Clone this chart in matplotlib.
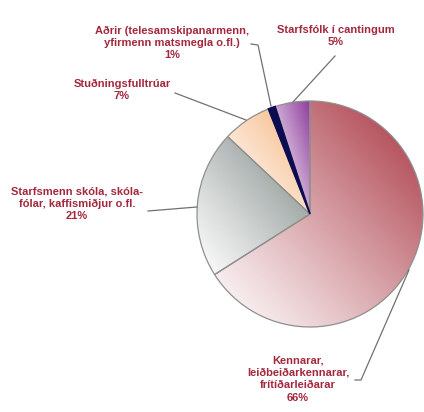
import numpy as np
import matplotlib
matplotlib.use("Agg")
import matplotlib.pyplot as plt
from matplotlib.colors import to_rgb

categories = [
    "Kennarar,\nleiðbeiðarkennarar,\nfrítíðarleiðarar",
    "Starfsmenn skóla, skóla-\nfólar, kaffismiðjur o.fl.",
    "Stuðningsfulltrúar",
    "Aðrir (telesamskipanarmenn,\nyfirmenn matsmegla o.fl.)",
    "Starfsfólk í cantingum",
]
values = [66, 21, 7, 1, 5]
pct_labels = ["66%", "21%", "7%", "1%", "5%"]
colors = ["#a83440", "#7c8784", "#f6b27a", "#0c0c50", "#8e3c9c"]

W, H = 424, 412
fig = plt.figure(figsize=(W / 100, H / 100), dpi=100)
ax = fig.add_axes([0, 0, 1, 1])


def Y(y):
    return H - y


cx, cy, r = 310, Y(214), 113
wedges, _ = ax.pie(values, startangle=90, counterclock=False, center=(cx, cy),
                   radius=r, frame=True,
                   wedgeprops=dict(facecolor="none", edgecolor="#8f8f8f", linewidth=0.9))
ax.set_xlim(0, W)
ax.set_ylim(0, H)
ax.set_aspect("equal")
ax.axis("off")

n = 200
for i, (w, c) in enumerate(zip(wedges, colors)):
    path = w.get_path()
    ext = path.get_extents()
    x0, y0, x1, y1 = ext.x0, ext.y0, ext.x1, ext.y1
    u = np.linspace(0, 1, n)
    uu, vv = np.meshgrid(u, u)
    t = np.clip((uu + vv) / 2.0, 0, 1) ** 1.1
    c0 = np.array([1.0, 1.0, 1.0])
    c1 = np.array(to_rgb(c))
    img = c0[None, None, :] * (1 - t[..., None]) + c1[None, None, :] * t[..., None]
    im = ax.imshow(img, extent=(x0, x1, y0, y1), origin="lower", zorder=0.5,
                   interpolation="bilinear")
    im.set_clip_path(w)
    w.set_zorder(1)
    if values[i] <= 1:
        w.set_edgecolor(c)
        w.set_facecolor(c)
        w.set_linewidth(1.2)
        w.set_zorder(1.5)

txt_color = "#a3283e"
line_color = "#707070"
fs = 8

label_pos = [(298, 379), (77, 204), (122, 90), (172, 43), (336, 36)]
leaders = [
    [(355, 380), (361, 380), (409, 270)],
    [(148, 211), (197, 207)],
    [(175, 93), (246, 120)],
    [(251, 44), (258, 45), (271, 106)],
    [(335, 56), (293, 102)],
]

for cat, pct, (lx, ly) in zip(categories, pct_labels, label_pos):
    ax.text(lx, Y(ly), cat + "\n" + pct, ha="center", va="center",
            fontsize=fs, fontweight="bold", color=txt_color,
            family=["Liberation Sans", "DejaVu Sans"], linespacing=1.3, zorder=3)

for pts in leaders:
    xs = [p[0] for p in pts]
    ys = [Y(p[1]) for p in pts]
    ax.plot(xs, ys, color=line_color, lw=0.9, zorder=2)

fig.savefig("out.png", dpi=100)
